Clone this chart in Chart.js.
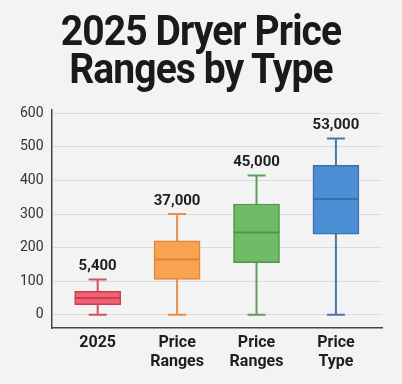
<!DOCTYPE html>
<html>
<head>
<meta charset="utf-8">
<script src="https://cdn.jsdelivr.net/npm/chart.js@4.4.1/dist/chart.umd.min.js"></script>
<style>
  html, body { margin: 0; padding: 0; background: #f3f3f3; }
  #wrap { position: relative; width: 402px; height: 384px; overflow: hidden; }
  #title { position: absolute; left: 0; top: 12px; width: 402px; text-align: center;
    font-family: Roboto, "Noto Sans", sans-serif; font-weight: 700; font-size: 42px;
    line-height: 38px; letter-spacing: -1px; color: #1a1a1a;
    transform: scaleX(0.93); transform-origin: 201px 0; }
  canvas { position: absolute; left: 0; top: 0; }
</style>
</head>
<body>
<div id="wrap">
  <canvas id="c" width="402" height="384"></canvas>
  <div id="title">2025 Dryer Price<br>Ranges by Type</div>
</div>
<script>
const categories = [["2025"], ["Price", "Ranges"], ["Price", "Ranges"], ["Price", "Type"]];
const minValues = [0, 0, 0, 0];
const q1Values = [30, 105, 155, 240];
const medianValues = [50, 165, 245, 345];
const q3Values = [70, 220, 330, 445];
const maxValues = [105, 300, 415, 525];
const topLabels = ["5,400", "37,000", "45,000", "53,000"];
const yTicks = [0, 100, 200, 300, 400, 500, 600];

const fills = ["#ef6276", "#f9a24f", "#6fbb66", "#4c8fd5"];
const borders = ["#cf3c50", "#e0843a", "#4f9649", "#3771ad"];
const whiskers = ["#d4525f", "#e39050", "#5c9f56", "#4479b4"];

const boxPlugin = {
  id: 'boxPlugin',
  beforeDatasetsDraw(chart) {
    const ctx = chart.ctx, xs = chart.scales.x, ys = chart.scales.y;
    ctx.save();
    for (let i = 0; i < categories.length; i++) {
      const x = xs.getPixelForValue(i);
      const yMin = ys.getPixelForValue(minValues[i]);
      const yMax = ys.getPixelForValue(maxValues[i]);
      ctx.strokeStyle = whiskers[i];
      ctx.lineWidth = 2;
      ctx.beginPath();
      ctx.moveTo(x, yMin); ctx.lineTo(x, yMax);
      ctx.moveTo(x - 9, yMin); ctx.lineTo(x + 9, yMin);
      ctx.moveTo(x - 9, yMax); ctx.lineTo(x + 9, yMax);
      ctx.stroke();
    }
    ctx.restore();
  },
  afterDatasetsDraw(chart) {
    const ctx = chart.ctx, xs = chart.scales.x, ys = chart.scales.y;
    const meta = chart.getDatasetMeta(0);
    ctx.save();
    for (let i = 0; i < categories.length; i++) {
      const x = xs.getPixelForValue(i);
      const w = meta.data[i].width;
      const yMed = ys.getPixelForValue(medianValues[i]);
      ctx.strokeStyle = borders[i];
      ctx.lineWidth = 2;
      ctx.beginPath();
      ctx.moveTo(x - w / 2, yMed); ctx.lineTo(x + w / 2, yMed);
      ctx.stroke();
      const yMax = ys.getPixelForValue(maxValues[i]);
      ctx.fillStyle = "#1e1e1e";
      ctx.font = "700 15px Roboto, sans-serif";
      ctx.textAlign = "center";
      ctx.textBaseline = "middle";
      ctx.fillText(topLabels[i], x, yMax - 13);
    }
    ctx.restore();
  }
};

new Chart(document.getElementById('c'), {
  type: 'bar',
  data: {
    datasets: [{
      data: categories.map((c, i) => ({ x: i, y: [q1Values[i], q3Values[i]] })),
      backgroundColor: fills,
      borderColor: borders,
      borderWidth: 1.5,
      borderSkipped: false,
      barThickness: 46
    }]
  },
  options: {
    responsive: false,
    animation: false,
    layout: { padding: { top: 110, left: 12, right: 20, bottom: 7 } },
    plugins: { legend: { display: false }, tooltip: { enabled: false }, title: { display: false } },
    scales: {
      x: {
        type: 'linear',
        offset: false,
        min: -0.58, max: 3.58,
        afterBuildTicks: (s) => { s.ticks = categories.map((c, i) => ({ value: i })); },
        ticks: {
          callback: (v) => categories[v],
          color: "#1e1e1e",
          font: { family: "Roboto", weight: "700", size: 16, lineHeight: 1.15 },
          padding: 6,
          maxRotation: 0, autoSkip: false
        },
        grid: { display: false, drawTicks: false, offset: false },
        border: { display: true, color: "#444", width: 1.5 }
      },
      y: {
        min: -40, max: 610,
        afterBuildTicks: (s) => { s.ticks = yTicks.map(v => ({ value: v })); },
        ticks: { color: "#333", font: { family: "Roboto", size: 14 }, padding: 8 },
        grid: { color: "#dcdcdc", lineWidth: 1, drawTicks: false },
        border: { display: true, color: "#444", width: 1.5 }
      }
    }
  },
  plugins: [boxPlugin]
});
</script>
</body>
</html>
